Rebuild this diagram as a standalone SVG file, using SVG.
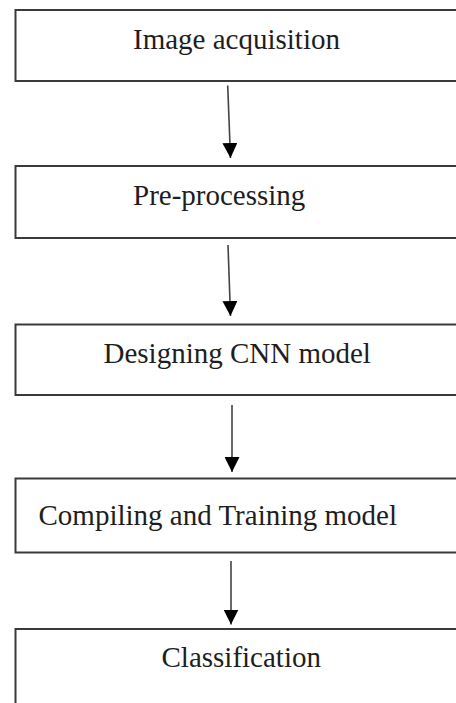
<svg xmlns="http://www.w3.org/2000/svg" width="456" height="703" viewBox="0 0 456 703">
  <style>
    .box { fill: #ffffff; stroke: #3a3a3a; stroke-width: 2; }
    .label { font-family: "Liberation Serif", "Times New Roman", serif; font-size: 29px; fill: #1e1e1e; }
    .flow { stroke: #444444; stroke-width: 1.6; fill: none; marker-end: url(#head); }
  </style>
  <defs>
    <marker id="head" viewBox="0 0 15 15" refX="15" refY="7.5" markerWidth="15" markerHeight="15" markerUnits="userSpaceOnUse" orient="auto">
      <path d="M0,0 L15,7.5 L0,15 Z" fill="#000000"/>
    </marker>
  </defs>
  <rect width="456" height="703" fill="#ffffff"/>

  <!-- process steps; boxes run past the right edge of the page -->
  <g id="step-acquisition">
    <rect class="box" x="15.5" y="10" width="470" height="71"/>
    <text class="label" x="133" y="49">Image acquisition</text>
  </g>
  <g id="step-preprocessing">
    <rect class="box" x="15.5" y="166" width="470" height="72"/>
    <text class="label" x="133" y="205">Pre-processing</text>
  </g>
  <g id="step-design">
    <rect class="box" x="15.5" y="324.5" width="470" height="70.5"/>
    <text class="label" x="103.5" y="363">Designing CNN model</text>
  </g>
  <g id="step-training">
    <rect class="box" x="15.5" y="478.5" width="470" height="74"/>
    <text class="label" x="38.5" y="525">Compiling and Training model</text>
  </g>
  <g id="step-classification">
    <rect class="box" x="15.5" y="629" width="470" height="110"/>
    <text class="label" x="161.5" y="666.5">Classification</text>
  </g>

  <!-- connectors -->
  <g id="connectors">
    <line class="flow" x1="227.7" y1="85.5" x2="230.5" y2="158"/>
    <line class="flow" x1="228" y1="245" x2="230.5" y2="316"/>
    <line class="flow" x1="232" y1="405" x2="232" y2="472"/>
    <line class="flow" x1="231" y1="561" x2="231" y2="624.5"/>
  </g>
</svg>
